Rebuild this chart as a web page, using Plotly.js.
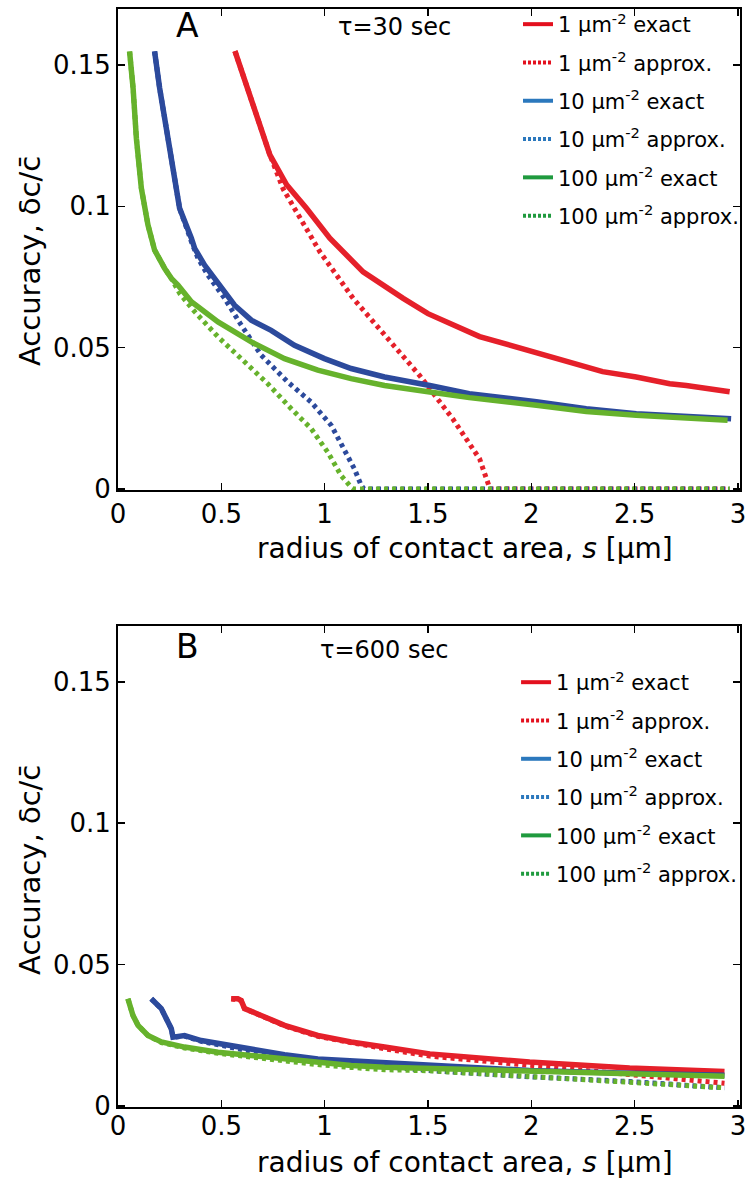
<!DOCTYPE html>
<html>
<head>
<meta charset="utf-8">
<script src="https://cdn.plot.ly/plotly-3.0.1.min.js"></script>
<style>html,body{margin:0;padding:0;background:#fff;}#plot{width:749px;height:1178px;}</style>
</head>
<body>
<div id="plot"></div>
<script>
// ---------- Panel A (tau = 30 sec) ----------
const aRedExactX = [0.566,0.654,0.735,0.816,0.912,1.025,1.186,1.38,1.5,1.75,2.0,2.186,2.345,2.508,2.67,2.75,2.96];
const aRedExactY = [0.1549,0.1359,0.1182,0.1076,0.0993,0.0887,0.0768,0.0674,0.062,0.0539,0.0486,0.0449,0.0415,0.0396,0.0372,0.0366,0.0344];
const aRedApproxX = [0.566,0.654,0.735,0.80,0.864,0.977,1.138,1.283,1.435,1.46,1.62,1.75,1.80,2.96];
const aRedApproxY = [0.1549,0.1359,0.1182,0.106,0.0981,0.0839,0.0674,0.055,0.0426,0.0401,0.0248,0.0106,0.0,0.0];
const aBlueExactX = [0.177,0.2015,0.242,0.274,0.298,0.355,0.371,0.419,0.467,0.50,0.564,0.645,0.741,0.854,0.999,1.128,1.29,1.509,1.70,2.025,2.266,2.508,2.75,2.967];
const aBlueExactY = [0.1548,0.1418,0.124,0.1087,0.0993,0.0887,0.0851,0.0792,0.0745,0.0716,0.065,0.0597,0.0561,0.0508,0.0461,0.0426,0.0396,0.0366,0.0337,0.0308,0.0284,0.0266,0.0258,0.0248];
const aBlueApproxX = [0.177,0.2015,0.242,0.274,0.298,0.355,0.387,0.435,0.516,0.596,0.693,0.822,0.935,1.032,1.096,1.144,1.177,1.19,2.96];
const aBlueApproxY = [0.1548,0.1418,0.124,0.1087,0.0993,0.0875,0.0816,0.0756,0.0674,0.058,0.0473,0.0378,0.0307,0.0225,0.0142,0.0071,0.0012,0.0,0.0];
const aGreenExactX = [0.056,0.073,0.089,0.113,0.145,0.177,0.226,0.258,0.29,0.355,0.484,0.645,0.806,0.967,1.128,1.29,1.509,1.70,2.025,2.266,2.508,2.75,2.95];
const aGreenExactY = [0.1548,0.1418,0.124,0.1064,0.0934,0.0845,0.078,0.0745,0.0721,0.0662,0.0591,0.052,0.0461,0.042,0.039,0.0366,0.0343,0.0323,0.0296,0.0274,0.0261,0.0252,0.0243];
const aGreenApproxX = [0.056,0.073,0.089,0.113,0.145,0.177,0.226,0.258,0.30,0.371,0.484,0.613,0.725,0.838,0.935,1.015,1.08,1.128,1.14,2.96];
const aGreenApproxY = [0.1548,0.1418,0.124,0.1064,0.0934,0.0845,0.078,0.0745,0.069,0.0627,0.0538,0.045,0.0372,0.0284,0.0213,0.013,0.0047,0.0006,0.0,0.0];

// ---------- Panel B (tau = 600 sec) ----------
const bRedExactX = [0.548,0.58,0.596,0.6125,0.693,0.806,0.967,1.128,1.29,1.509,1.992,2.476,2.935];
const bRedExactY = [0.0379,0.0379,0.0373,0.0344,0.032,0.0285,0.0249,0.0226,0.0208,0.0184,0.0155,0.0134,0.0122];
const bRedApproxX = [0.548,0.596,0.6125,0.693,0.806,0.967,1.128,1.29,1.509,1.992,2.476,2.935];
const bRedApproxY = [0.0379,0.0373,0.0344,0.032,0.0283,0.0246,0.0222,0.0202,0.0176,0.0143,0.0110,0.0080];
const bBlueExactX = [0.161,0.2095,0.234,0.258,0.266,0.322,0.403,0.484,0.645,0.806,0.967,1.29,1.53,1.992,2.476,2.935];
const bBlueExactY = [0.0379,0.0344,0.0308,0.0273,0.0243,0.0249,0.0231,0.022,0.02,0.0181,0.0166,0.0154,0.0143,0.0125,0.0115,0.0108];
const bBlueApproxX = [0.161,0.2095,0.234,0.258,0.266,0.322,0.403,0.484,0.645,0.806,0.967,1.29,1.509,1.992,2.476,2.935];
const bBlueApproxY = [0.0379,0.0344,0.0308,0.0273,0.0243,0.0247,0.0228,0.0215,0.0193,0.0173,0.0156,0.0138,0.0125,0.0103,0.0086,0.0064];
const bGreenExactX = [0.048,0.0725,0.097,0.145,0.21,0.322,0.484,0.645,0.806,0.967,1.128,1.29,1.509,1.992,2.476,2.935];
const bGreenExactY = [0.0379,0.032,0.0285,0.0249,0.0226,0.0208,0.019,0.0178,0.0164,0.0152,0.0143,0.0137,0.0133,0.0122,0.0113,0.0105];
const bGreenApproxX = [0.048,0.0725,0.097,0.145,0.21,0.322,0.484,0.645,0.806,0.967,1.128,1.29,1.509,1.992,2.476,2.935];
const bGreenApproxY = [0.0379,0.032,0.0285,0.0249,0.0224,0.0205,0.0186,0.0172,0.0158,0.0146,0.0136,0.0128,0.0124,0.0103,0.0086,0.0064];

const legendNames = ['1 μm<sup>-2</sup> exact','1 μm<sup>-2</sup> approx.','10 μm<sup>-2</sup> exact','10 μm<sup>-2</sup> approx.','100 μm<sup>-2</sup> exact','100 μm<sup>-2</sup> approx.'];
const xTickVals = [0,0.5,1,1.5,2,2.5,3];
const xTickText = ['0','0.5','1','1.5','2','2.5','3'];
const yTickVals = [0,0.05,0.1,0.15];
const yTickText = ['0','0.05','0.1','0.15'];

const dataColors = {red:'#e5202a', blue:'#2c4a9c', green:'#66b22c'};
const legColors = ['#e3101e','#e3101e','#2b78bd','#2b78bd','#1f9a3e','#1f9a3e'];
const FONT = 'DejaVu Sans';
const DOT = '4px,4px';

function curve(x,y,color,approx,xa,ya){
  return {x:x,y:y,type:'scatter',mode:'lines',xaxis:xa,yaxis:ya,showlegend:false,hoverinfo:'skip',
    line:{color:color,width:approx?5:5.5,dash:approx?DOT:'solid',shape:'linear'}};
}
function legItem(i,xa,ya,leg){
  return {x:[null],y:[null],type:'scatter',mode:'lines',xaxis:xa,yaxis:ya,name:legendNames[i],
    legend:leg,legendgroup:leg+'g'+i,showlegend:true,
    line:{color:legColors[i],width:4,dash:(i%2===1)?'3px,2px':'solid'}};
}

const traces = [
  curve(aRedExactX,aRedExactY,dataColors.red,false,'x','y'),
  curve(aRedApproxX,aRedApproxY,dataColors.red,true,'x','y'),
  curve(aBlueExactX,aBlueExactY,dataColors.blue,false,'x','y'),
  curve(aBlueApproxX,aBlueApproxY,dataColors.blue,true,'x','y'),
  curve(aGreenExactX,aGreenExactY,dataColors.green,false,'x','y'),
  curve(aGreenApproxX,aGreenApproxY,dataColors.green,true,'x','y'),
  curve(bRedExactX,bRedExactY,dataColors.red,false,'x2','y2'),
  curve(bRedApproxX,bRedApproxY,dataColors.red,true,'x2','y2'),
  curve(bBlueExactX,bBlueExactY,dataColors.blue,false,'x2','y2'),
  curve(bBlueApproxX,bBlueApproxY,dataColors.blue,true,'x2','y2'),
  curve(bGreenExactX,bGreenExactY,dataColors.green,false,'x2','y2'),
  curve(bGreenApproxX,bGreenApproxY,dataColors.green,true,'x2','y2')
];
for(let i=0;i<6;i++) traces.push(legItem(i,'x','y','legend'));
for(let i=0;i<6;i++) traces.push(legItem(i,'x2','y2','legend2'));

function xAxis(anchor,standoff){
  return {anchor:anchor,domain:[0,1],range:[0,3.01],tickvals:xTickVals,ticktext:xTickText,
    ticks:'inside',ticklen:7,tickwidth:1.5,tickcolor:'#000',showline:true,linecolor:'#000',linewidth:2,
    mirror:'ticks',showgrid:false,zeroline:false,ticklabelstandoff:standoff,automargin:false,
    tickfont:{family:FONT,size:26,color:'#000'}};
}
function yAxis(anchor,domain){
  return {anchor:anchor,domain:domain,range:[-0.0004,0.1698],tickvals:yTickVals,ticktext:yTickText,
    ticks:'inside',ticklen:7,tickwidth:1.5,tickcolor:'#000',showline:true,linecolor:'#000',linewidth:2,
    mirror:'ticks',showgrid:false,zeroline:false,ticklabelstandoff:0,automargin:false,
    tickfont:{family:FONT,size:26,color:'#000'}};
}
const legBase = {bgcolor:'rgba(0,0,0,0)',borderwidth:0,xanchor:'left',yanchor:'top',tracegroupgap:8,
  xref:'container',yref:'container',
  font:{family:FONT,size:21,color:'#000'},itemwidth:30,traceorder:'grouped'};

function ann(text,x,y,size,extra){
  return Object.assign({text:text,xref:'paper',yref:'paper',x:x,y:y,xanchor:'center',yanchor:'middle',
    showarrow:false,font:{family:FONT,size:size,color:'#000'}},extra||{});
}

const layout = {
  width:749,height:1178,paper_bgcolor:'#fff',plot_bgcolor:'#fff',
  margin:{l:118,r:9,t:9,b:71,autoexpand:false},
  xaxis:xAxis('y',0), yaxis:yAxis('x',[0.5619,1]),
  xaxis2:xAxis('y2',-5), yaxis2:yAxis('x2',[0,0.4381]),
  legend:Object.assign({},legBase,{x:0.6916,y:0.9966}),
  legend2:Object.assign({},legBase,{x:0.689,y:0.438}),
  annotations:[
    ann('A',0.111,0.985,33),
    ann('τ=30 sec',0.444,0.9836,24),
    ann('B',0.111,0.419,33),
    ann('τ=600 sec',0.4277,0.4162,24),
    ann('Accuracy, δc/c̄',-0.1415,0.7705,29,{textangle:-90}),
    ann('Accuracy, δc/c̄',-0.1415,0.2159,29,{textangle:-90}),
    ann('radius of contact area, <i>s</i> [μm]',0.558,0.5085,28),
    ann('radius of contact area, <i>s</i> [μm]',0.558,-0.0501,28)
  ]
};

Plotly.newPlot('plot',traces,layout,{displayModeBar:false,staticPlot:true});
</script>
</body>
</html>
